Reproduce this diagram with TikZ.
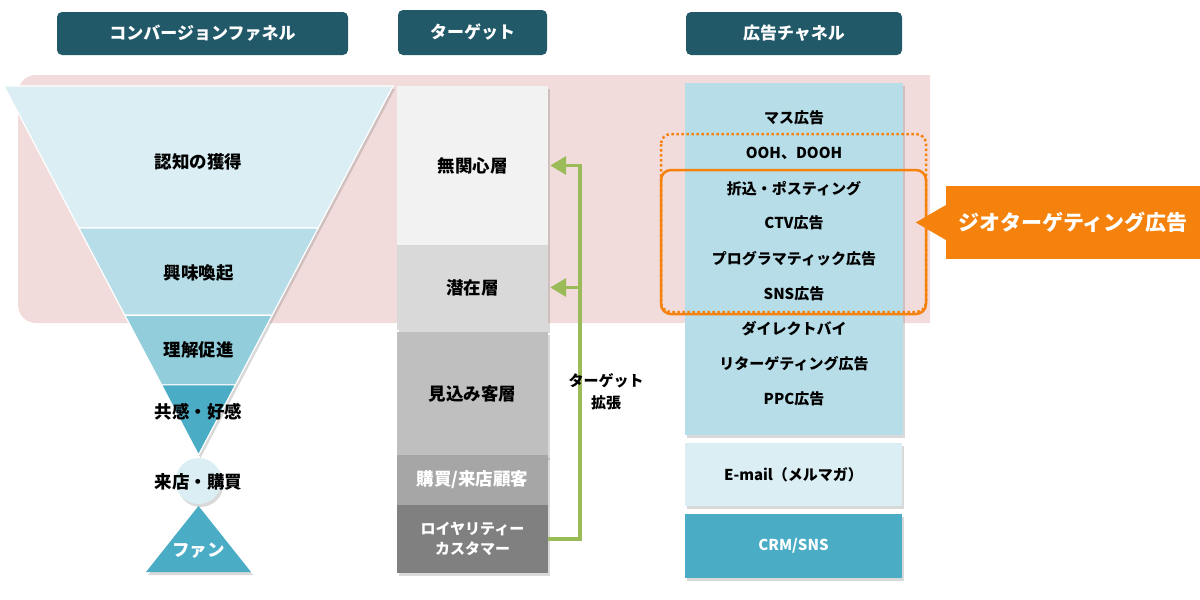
\documentclass[tikz,border=0pt]{standalone}
\usepackage{fontspec}
\setmainfont{Noto Sans CJK JP}
\usepackage{tikz}
\usetikzlibrary{calc,shadows,arrows.meta}

\definecolor{headteal}{HTML}{215968}
\definecolor{bgpink}{HTML}{F2DCDB}
\definecolor{fpale}{HTML}{DAEEF3}
\definecolor{flight}{HTML}{B7DEE8}
\definecolor{fmid}{HTML}{92CDDC}
\definecolor{fdeep}{HTML}{4BACC6}
\definecolor{geoorange}{HTML}{F5820D}
\definecolor{widengreen}{HTML}{9BBB59}

\begin{document}
\begin{tikzpicture}[x=1pt,y=-1pt,
    every node/.style={font=\bfseries\fontsize{17.5}{22}\selectfont},
    head/.style={fill=headteal,rounded corners=5pt,text=white,minimum height=43pt,
      font=\bfseries\fontsize{17}{20}\selectfont},
    dropsh/.style={drop shadow={shadow xshift=2pt,shadow yshift=-3pt,opacity=.3}},
    band/.style={minimum width=151pt,inner sep=0pt,dropsh},
    adbox/.style={minimum width=217pt,inner sep=0pt,dropsh},
    smalltext/.style={font=\bfseries\fontsize{15}{24}\selectfont},
    widenarrow/.style={widengreen,line width=3.5pt,shorten >=2pt,-{Triangle[length=16pt,width=18pt]}}]
  \useasboundingbox (0,0) rectangle (1200,600);

  % pink zone behind the upper part
  \fill[bgpink] (930,75) [rounded corners=18pt] -- (18,75) -- (18,323) [sharp corners] -- (930,323) -- cycle;

  % column heads
  \node[head,minimum width=291pt] (hfunnel) at (202.5,33.5) {コンバージョンファネル};
  \node[head,minimum width=149pt,minimum height=45pt] (htarget) at (472.5,32.5) {ターゲット};
  \node[head,minimum width=216pt] (hchannel) at (794,33.5) {広告チャネル};

  %% the funnel
  \coordinate (tl) at (4,86);
  \coordinate (tr) at (393,86);
  \coordinate (ap) at (198.5,455);
  \fill[fpale,dropsh] (tl) -- (tr) -- (ap) -- cycle;
  \foreach \a/\b/\c in {0/.385/fpale,.385/.621/flight,.621/.81/fmid,.81/1/fdeep}
  {
    \filldraw[fill=\c,draw=white,line width=1.2pt] ($(tl)!\a!(ap)$) -- ($(tr)!\a!(ap)$)
      -- ($(tr)!\b!(ap)$) -- ($(tl)!\b!(ap)$) -- cycle;
  }
  \node (aware) at (198.5,162) {認知の獲得};
  \node (interest) at (198.5,273) {興味喚起};
  \node (understand) at (198.5,350) {理解促進};
  \node (empathy) at (198.5,412) {共感・好感};

  % purchase and fans
  \node[circle,fill=fpale,minimum size=46pt,inner sep=0pt,dropsh] (visitdot) at (198.5,481) {};
  \node (visit) at (198.5,482) {来店・購買};
  \fill[fdeep,dropsh] (146,572) -- (198.5,506) -- (251,572) -- cycle;
  \node[text=white] (fan) at (198.5,551) {ファン};

  %% the target layers
  \node[band,fill=black!5,minimum height=159pt] (unaware) at (472.5,165.5) {無関心層};
  \node[band,fill=black!15,minimum height=85pt] (latent) at (472.5,287.5) {潜在層};
  \node[band,fill=black!25,minimum height=125pt] (prospect) at (472.5,394) {見込み客層};
  \node[band,fill=black!35,minimum height=50pt,text=white] (buyer) at (472.5,480) {購買/来店顧客};
  \node[band,fill=black!50,minimum height=68pt,text=white,smalltext,align=center] (loyal) at (472.5,539)
    {ロイヤリティー\\[-4pt]カスタマー};

  % widening the target
  \coordinate (bend) at ($(loyal.east)+(32,0)$);
  \draw[widenarrow] (loyal.east) -- (bend) |- (unaware.east);
  \draw[widenarrow] (bend) |- (latent.east);
  \node[smalltext,align=center] (widen) at (606,392) {ターゲット\\[-2pt]拡張};

  %% the ad channels
  \node[adbox,fill=flight,minimum width=218pt,minimum height=352pt] (chan) at (794,259) {};
  \foreach \t [count=\i] in {マス広告,OOH、DOOH,折込・ポスティング,CTV広告,プログラマティック広告,
      SNS広告,ダイレクトバイ,リターゲティング広告,PPC広告}
  {
    \node[smalltext] (ad\i) at (794,{118+35.1*(\i-1)}) {\t};
  }
  \node[adbox,smalltext,fill=fpale,minimum height=63pt] (mail) at (793.5,474.5) {E-mail（メルマガ）};
  \node[adbox,smalltext,fill=fdeep,text=white,minimum height=64pt] (crm) at (793.5,546) {CRM/SNS};

  % geo targeting frames
  \draw[geoorange,line width=2.5pt,rounded corners=10pt,dash pattern=on 2.5pt off 2.5pt]
    (661,134) rectangle (926,312);
  \draw[geoorange,line width=2.5pt,rounded corners=10pt] (661,170) rectangle (926,314);
  \node[fill=geoorange,text=white,minimum width=254pt,minimum height=73pt,
    font=\bfseries\fontsize{21}{25}\selectfont] (geotag) at (1073,222.5) {ジオターゲティング広告};
  \fill[geoorange] ($(geotag.west)+(1,-18)$) -- ($(geotag.west)+(-30,0)$) -- ($(geotag.west)+(1,18)$) -- cycle;
\end{tikzpicture}
\end{document}
